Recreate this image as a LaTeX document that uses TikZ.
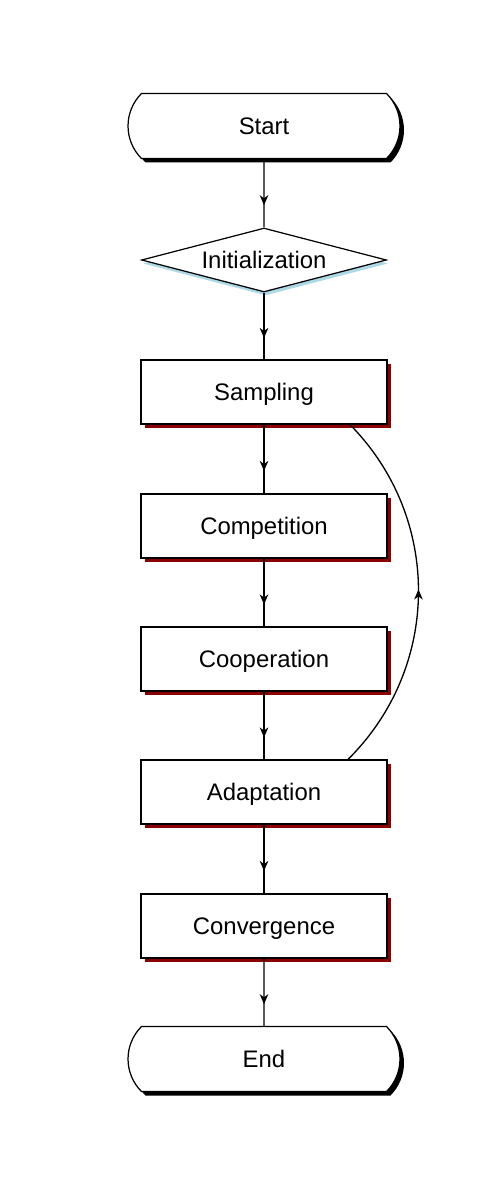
\documentclass[tikz,border=0pt]{standalone}
\usepackage{fontspec}
\setmainfont{Liberation Sans}
\usetikzlibrary{shapes.geometric,shapes.misc,shadows,arrows.meta,decorations.markings}
\definecolor{shadowred}{HTML}{8B0000}
\definecolor{shadowblue}{HTML}{ADD8E6}
\begin{document}
\begin{tikzpicture}[x=0.02cm,y=-0.02cm,
  every node/.style={font=\fontsize{13.6}{16}\selectfont, line width=0.7pt, text height=1.8ex, text depth=0pt},
  terminal/.style={draw, fill=white, rounded rectangle, rounded rectangle arc length=90,
    minimum width=5.44cm, minimum height=1.3cm, inner sep=0pt,
    drop shadow={fill=black, opacity=1, shadow xshift=0.08cm, shadow yshift=-0.08cm}},
  decision/.style={draw, fill=white, diamond, aspect=3.8, inner sep=0pt,
    minimum width=4.9cm, minimum height=1.28cm,
    drop shadow={fill=shadowblue, opacity=1, shadow xshift=0.03cm, shadow yshift=-0.07cm}},
  process/.style={draw, fill=white, rectangle, minimum width=4.92cm, minimum height=1.28cm, inner sep=0pt,
    drop shadow={fill=shadowred, opacity=1, shadow xshift=0.08cm, shadow yshift=-0.08cm}},
  tipstyle/.style={Stealth[length=0.2cm,width=0.17cm,inset=0.06cm]},
  flow/.style={line width=0.75pt, postaction={decorate}, decoration={markings,
    mark=at position 0.5 with {\arrow[xshift=0.24cm]{Stealth[length=0.2cm,width=0.17cm,inset=0.06cm]}}}},
  loopflow/.style={line width=0.75pt, postaction={decorate}, decoration={markings,
    mark=at position 0.5 with {\arrow[xshift=0.06cm]{Stealth[length=0.2cm,width=0.17cm,inset=0.06cm]}}}}
]
\useasboundingbox (0,0) rectangle (500,1200);
\node[terminal] (start) at (264,126) {Start};
\node[decision] (init) at (264,260) {Initialization};
\node[process] (samp) at (264,392) {Sampling};
\node[process] (comp) at (264,526) {Competition};
\node[process] (coop) at (264,659) {Cooperation};
\node[process] (adap) at (264,792) {Adaptation};
\node[process] (conv) at (264,926) {Convergence};
\node[terminal] (end) at (264,1059) {End};
\draw[flow] (start) -- (init);
\draw[flow] (init) -- (samp);
\draw[flow] (samp) -- (comp);
\draw[flow] (comp) -- (coop);
\draw[flow] (coop) -- (adap);
\draw[flow] (adap) -- (conv);
\draw[flow] (conv) -- (end);
\coordinate (la) at ([xshift=1.68cm]adap.north);
\coordinate (ls) at ([xshift=1.72cm]samp.south);
\draw[loopflow] (la) to[bend right=45] (ls);
\end{tikzpicture}
\end{document}
